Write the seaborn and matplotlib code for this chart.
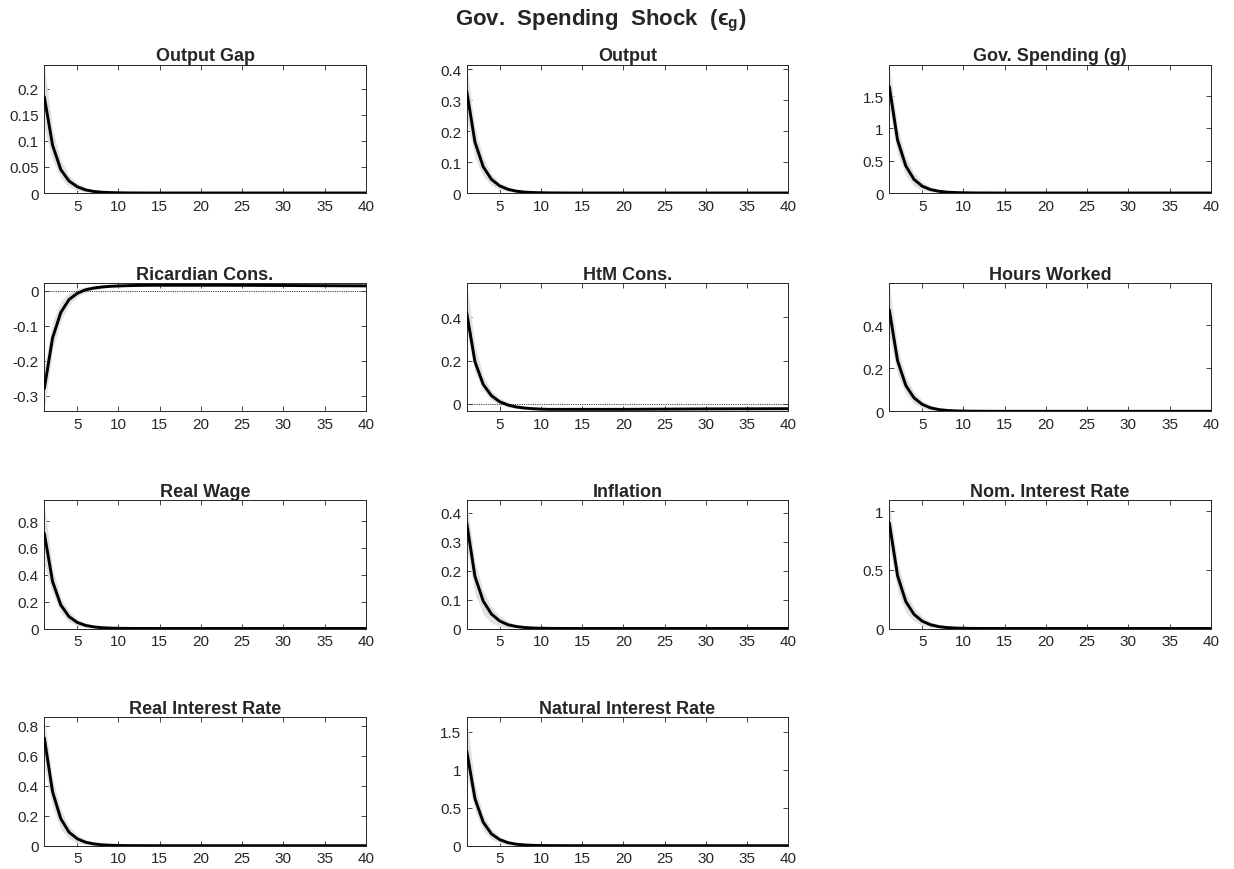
import numpy as np
import pandas as pd
import matplotlib
matplotlib.use("Agg")
import matplotlib.pyplot as plt
from matplotlib.ticker import FuncFormatter
import seaborn as sns

# ---------------- data (horizons 1..40) ----------------
horizon = list(range(1, 41))

titles = ["Output Gap", "Output", "Gov. Spending (g)",
          "Ricardian Cons.", "HtM Cons.", "Hours Worked",
          "Real Wage", "Inflation", "Nom. Interest Rate",
          "Real Interest Rate", "Natural Interest Rate"]

gap_mean = [0.185, 0.092, 0.045, 0.023, 0.012, 0.006, 0.003, 0.0015, 0.0008, 0.0004,
            0.0002, 0.0001, 0.0001, 0, 0, 0, 0, 0, 0, 0,
            0, 0, 0, 0, 0, 0, 0, 0, 0, 0,
            0, 0, 0, 0, 0, 0, 0, 0, 0, 0]
gap_lo = [0.125, 0.064, 0.029, 0.012, 0.005, 0.002, 0.001, 0.0004, 0.0002, 0.0001,
          0, 0, 0, 0, 0, 0, 0, 0, 0, 0,
          0, 0, 0, 0, 0, 0, 0, 0, 0, 0,
          0, 0, 0, 0, 0, 0, 0, 0, 0, 0]
gap_hi = [0.245, 0.122, 0.063, 0.034, 0.019, 0.011, 0.006, 0.0035, 0.002, 0.0011,
          0.0006, 0.0003, 0.0002, 0.0001, 0, 0, 0, 0, 0, 0,
          0, 0, 0, 0, 0, 0, 0, 0, 0, 0,
          0, 0, 0, 0, 0, 0, 0, 0, 0, 0]

out_mean = [0.33, 0.165, 0.085, 0.044, 0.023, 0.012, 0.006, 0.003, 0.0016, 0.0008,
            0.0004, 0.0002, 0.0001, 0, 0, 0, 0, 0, 0, 0,
            0, 0, 0, 0, 0, 0, 0, 0, 0, 0,
            0, 0, 0, 0, 0, 0, 0, 0, 0, 0]
out_lo = [0.24, 0.115, 0.055, 0.025, 0.011, 0.005, 0.002, 0.001, 0.0005, 0.0002,
          0, 0, 0, 0, 0, 0, 0, 0, 0, 0,
          0, 0, 0, 0, 0, 0, 0, 0, 0, 0,
          0, 0, 0, 0, 0, 0, 0, 0, 0, 0]
out_hi = [0.415, 0.21, 0.115, 0.062, 0.034, 0.019, 0.01, 0.0055, 0.003, 0.0015,
          0.0008, 0.0004, 0.0002, 0.0001, 0, 0, 0, 0, 0, 0,
          0, 0, 0, 0, 0, 0, 0, 0, 0, 0,
          0, 0, 0, 0, 0, 0, 0, 0, 0, 0]

gov_mean = [1.65, 0.82, 0.42, 0.21, 0.105, 0.053, 0.027, 0.013, 0.007, 0.0035,
            0.0018, 0.0009, 0.0005, 0.0002, 0.0001, 0, 0, 0, 0, 0,
            0, 0, 0, 0, 0, 0, 0, 0, 0, 0,
            0, 0, 0, 0, 0, 0, 0, 0, 0, 0]
gov_lo = [1.3, 0.6, 0.27, 0.11, 0.045, 0.018, 0.007, 0.003, 0.001, 0.0004,
          0.0001, 0, 0, 0, 0, 0, 0, 0, 0, 0,
          0, 0, 0, 0, 0, 0, 0, 0, 0, 0,
          0, 0, 0, 0, 0, 0, 0, 0, 0, 0]
gov_hi = [1.98, 1.02, 0.56, 0.31, 0.17, 0.095, 0.053, 0.03, 0.017, 0.009,
          0.005, 0.003, 0.0016, 0.0009, 0.0005, 0.0003, 0.0001, 0, 0, 0,
          0, 0, 0, 0, 0, 0, 0, 0, 0, 0,
          0, 0, 0, 0, 0, 0, 0, 0, 0, 0]

ric_mean = [-0.28, -0.135, -0.062, -0.025, -0.007, 0.003, 0.008, 0.011, 0.013, 0.014,
            0.0148, 0.0153, 0.0157, 0.016, 0.016, 0.016, 0.016, 0.016, 0.016, 0.016,
            0.016, 0.016, 0.016, 0.0159, 0.0158, 0.0157, 0.0156, 0.0155, 0.0154, 0.0153,
            0.0152, 0.0151, 0.015, 0.0149, 0.0148, 0.0147, 0.0146, 0.0145, 0.0144, 0.0143]
ric_lo = [-0.34, -0.17, -0.085, -0.04, -0.016, -0.004, 0.003, 0.007, 0.01, 0.011,
          0.012, 0.0125, 0.013, 0.013, 0.013, 0.013, 0.013, 0.013, 0.013, 0.013,
          0.013, 0.013, 0.013, 0.013, 0.013, 0.0128, 0.0127, 0.0126, 0.0125, 0.0124,
          0.0123, 0.0122, 0.0121, 0.012, 0.0119, 0.0118, 0.0117, 0.0116, 0.0115, 0.0114]
ric_hi = [-0.22, -0.09, -0.03, -0.006, 0.006, 0.011, 0.014, 0.016, 0.017, 0.0175,
          0.018, 0.018, 0.0185, 0.0185, 0.0185, 0.0185, 0.0185, 0.0185, 0.0185, 0.0185,
          0.0185, 0.0185, 0.0185, 0.0184, 0.0183, 0.0182, 0.0181, 0.018, 0.0179, 0.0178,
          0.0177, 0.0176, 0.0175, 0.0174, 0.0173, 0.0172, 0.0171, 0.017, 0.0169, 0.0168]

htm_mean = [0.42, 0.195, 0.09, 0.038, 0.01, -0.005, -0.014, -0.019, -0.022, -0.024,
            -0.025, -0.025, -0.025, -0.025, -0.025, -0.025, -0.025, -0.025, -0.025, -0.025,
            -0.0248, -0.0246, -0.0244, -0.0242, -0.024, -0.0238, -0.0236, -0.0234, -0.0232, -0.023,
            -0.0229, -0.0228, -0.0227, -0.0226, -0.0225, -0.0224, -0.0223, -0.0222, -0.0221, -0.022]
htm_lo = [0.33, 0.145, 0.06, 0.018, -0.004, -0.015, -0.021, -0.025, -0.027, -0.028,
          -0.0285, -0.0285, -0.0285, -0.0285, -0.0285, -0.0285, -0.0285, -0.0285, -0.0285, -0.0285,
          -0.0283, -0.0281, -0.0279, -0.0277, -0.0275, -0.0273, -0.0271, -0.0269, -0.0267, -0.0265,
          -0.0264, -0.0263, -0.0262, -0.0261, -0.026, -0.0259, -0.0258, -0.0257, -0.0256, -0.0255]
htm_hi = [0.555, 0.27, 0.13, 0.062, 0.027, 0.008, -0.004, -0.012, -0.017, -0.02,
          -0.0215, -0.0215, -0.0215, -0.0215, -0.0215, -0.0215, -0.0215, -0.0215, -0.0215, -0.0215,
          -0.0213, -0.0211, -0.0209, -0.0207, -0.0205, -0.0203, -0.0201, -0.0199, -0.0197, -0.0195,
          -0.0194, -0.0193, -0.0192, -0.0191, -0.019, -0.0189, -0.0188, -0.0187, -0.0186, -0.0185]

hrs_mean = [0.47, 0.235, 0.12, 0.062, 0.032, 0.016, 0.008, 0.004, 0.002, 0.001,
            0.0005, 0.0003, 0.0001, 0, 0, 0, 0, 0, 0, 0,
            0, 0, 0, 0, 0, 0, 0, 0, 0, 0,
            0, 0, 0, 0, 0, 0, 0, 0, 0, 0]
hrs_lo = [0.35, 0.17, 0.08, 0.035, 0.015, 0.006, 0.002, 0.001, 0.0004, 0.0001,
          0, 0, 0, 0, 0, 0, 0, 0, 0, 0,
          0, 0, 0, 0, 0, 0, 0, 0, 0, 0,
          0, 0, 0, 0, 0, 0, 0, 0, 0, 0]
hrs_hi = [0.59, 0.3, 0.16, 0.09, 0.05, 0.028, 0.016, 0.009, 0.005, 0.003,
          0.0016, 0.0009, 0.0005, 0.0003, 0.0001, 0, 0, 0, 0, 0,
          0, 0, 0, 0, 0, 0, 0, 0, 0, 0,
          0, 0, 0, 0, 0, 0, 0, 0, 0, 0]

wage_mean = [0.71, 0.35, 0.175, 0.088, 0.045, 0.023, 0.012, 0.006, 0.003, 0.0015,
             0.0008, 0.0004, 0.0002, 0.0001, 0, 0, 0, 0, 0, 0,
             0, 0, 0, 0, 0, 0, 0, 0, 0, 0,
             0, 0, 0, 0, 0, 0, 0, 0, 0, 0]
wage_lo = [0.48, 0.26, 0.12, 0.05, 0.02, 0.008, 0.003, 0.001, 0.0004, 0.0001,
           0, 0, 0, 0, 0, 0, 0, 0, 0, 0,
           0, 0, 0, 0, 0, 0, 0, 0, 0, 0,
           0, 0, 0, 0, 0, 0, 0, 0, 0, 0]
wage_hi = [0.93, 0.45, 0.23, 0.125, 0.07, 0.04, 0.022, 0.012, 0.007, 0.004,
           0.0022, 0.0012, 0.0007, 0.0004, 0.0002, 0.0001, 0, 0, 0, 0,
           0, 0, 0, 0, 0, 0, 0, 0, 0, 0,
           0, 0, 0, 0, 0, 0, 0, 0, 0, 0]

infl_mean = [0.365, 0.18, 0.095, 0.05, 0.026, 0.013, 0.007, 0.0035, 0.0018, 0.0009,
             0.0005, 0.0002, 0.0001, 0, 0, 0, 0, 0, 0, 0,
             0, 0, 0, 0, 0, 0, 0, 0, 0, 0,
             0, 0, 0, 0, 0, 0, 0, 0, 0, 0]
infl_lo = [0.28, 0.12, 0.05, 0.02, 0.007, 0.002, 0.0007, 0.0002, 0.0001, 0,
           0, 0, 0, 0, 0, 0, 0, 0, 0, 0,
           0, 0, 0, 0, 0, 0, 0, 0, 0, 0,
           0, 0, 0, 0, 0, 0, 0, 0, 0, 0]
infl_hi = [0.44, 0.23, 0.13, 0.075, 0.043, 0.025, 0.014, 0.008, 0.0045, 0.0025,
           0.0014, 0.0008, 0.0004, 0.0002, 0.0001, 0, 0, 0, 0, 0,
           0, 0, 0, 0, 0, 0, 0, 0, 0, 0,
           0, 0, 0, 0, 0, 0, 0, 0, 0, 0]

nom_mean = [0.9, 0.45, 0.23, 0.12, 0.062, 0.032, 0.016, 0.008, 0.004, 0.002,
            0.001, 0.0005, 0.0003, 0.0001, 0, 0, 0, 0, 0, 0,
            0, 0, 0, 0, 0, 0, 0, 0, 0, 0,
            0, 0, 0, 0, 0, 0, 0, 0, 0, 0]
nom_lo = [0.7, 0.32, 0.14, 0.06, 0.025, 0.01, 0.004, 0.0015, 0.0005, 0.0002,
          0, 0, 0, 0, 0, 0, 0, 0, 0, 0,
          0, 0, 0, 0, 0, 0, 0, 0, 0, 0,
          0, 0, 0, 0, 0, 0, 0, 0, 0, 0]
nom_hi = [1.07, 0.57, 0.31, 0.18, 0.1, 0.058, 0.033, 0.019, 0.011, 0.006,
          0.0035, 0.002, 0.0011, 0.0006, 0.0003, 0.0002, 0.0001, 0, 0, 0,
          0, 0, 0, 0, 0, 0, 0, 0, 0, 0,
          0, 0, 0, 0, 0, 0, 0, 0, 0, 0]

real_mean = [0.72, 0.36, 0.18, 0.09, 0.046, 0.023, 0.012, 0.006, 0.003, 0.0015,
             0.0008, 0.0004, 0.0002, 0.0001, 0, 0, 0, 0, 0, 0,
             0, 0, 0, 0, 0, 0, 0, 0, 0, 0,
             0, 0, 0, 0, 0, 0, 0, 0, 0, 0]
real_lo = [0.53, 0.26, 0.11, 0.045, 0.018, 0.007, 0.003, 0.001, 0.0004, 0.0001,
           0, 0, 0, 0, 0, 0, 0, 0, 0, 0,
           0, 0, 0, 0, 0, 0, 0, 0, 0, 0,
           0, 0, 0, 0, 0, 0, 0, 0, 0, 0]
real_hi = [0.85, 0.45, 0.24, 0.13, 0.072, 0.04, 0.022, 0.012, 0.007, 0.004,
           0.0022, 0.0012, 0.0007, 0.0004, 0.0002, 0.0001, 0, 0, 0, 0,
           0, 0, 0, 0, 0, 0, 0, 0, 0, 0,
           0, 0, 0, 0, 0, 0, 0, 0, 0, 0]

nat_mean = [1.25, 0.62, 0.31, 0.155, 0.08, 0.04, 0.02, 0.01, 0.005, 0.0025,
            0.0013, 0.0007, 0.0003, 0.0002, 0.0001, 0, 0, 0, 0, 0,
            0, 0, 0, 0, 0, 0, 0, 0, 0, 0,
            0, 0, 0, 0, 0, 0, 0, 0, 0, 0]
nat_lo = [0.95, 0.45, 0.2, 0.085, 0.035, 0.014, 0.005, 0.002, 0.0007, 0.0002,
          0, 0, 0, 0, 0, 0, 0, 0, 0, 0,
          0, 0, 0, 0, 0, 0, 0, 0, 0, 0,
          0, 0, 0, 0, 0, 0, 0, 0, 0, 0]
nat_hi = [1.68, 0.8, 0.41, 0.22, 0.12, 0.066, 0.036, 0.02, 0.011, 0.006,
          0.0033, 0.0018, 0.001, 0.0005, 0.0003, 0.0001, 0, 0, 0, 0,
          0, 0, 0, 0, 0, 0, 0, 0, 0, 0,
          0, 0, 0, 0, 0, 0, 0, 0, 0, 0]

means = [gap_mean, out_mean, gov_mean, ric_mean, htm_mean, hrs_mean,
         wage_mean, infl_mean, nom_mean, real_mean, nat_mean]
lows = [gap_lo, out_lo, gov_lo, ric_lo, htm_lo, hrs_lo,
        wage_lo, infl_lo, nom_lo, real_lo, nat_lo]
highs = [gap_hi, out_hi, gov_hi, ric_hi, htm_hi, hrs_hi,
         wage_hi, infl_hi, nom_hi, real_hi, nat_hi]

ylims = [(0, 0.247), (0, 0.416), (0, 1.99),
         (-0.345, 0.023), (-0.034, 0.558), (0, 0.596),
         (0, 0.957), (0, 0.444), (0, 1.094),
         (0, 0.858), (0, 1.69)]
yticks = [[0, 0.05, 0.1, 0.15, 0.2], [0, 0.1, 0.2, 0.3, 0.4], [0, 0.5, 1, 1.5],
          [-0.3, -0.2, -0.1, 0], [0, 0.2, 0.4], [0, 0.2, 0.4],
          [0, 0.2, 0.4, 0.6, 0.8], [0, 0.1, 0.2, 0.3, 0.4], [0, 0.5, 1],
          [0, 0.2, 0.4, 0.6, 0.8], [0, 0.5, 1, 1.5]]
xticks = [5, 10, 15, 20, 25, 30, 35, 40]

# ---------------- style ----------------
sns.set_style("ticks")
plt.rcParams["font.family"] = ["Liberation Sans", "DejaVu Sans"]
plt.rcParams["mathtext.fontset"] = "custom"
plt.rcParams["mathtext.rm"] = "Liberation Sans:bold"
plt.rcParams["mathtext.it"] = "DejaVu Sans:bold"
plt.rcParams["mathtext.bf"] = "Liberation Sans:bold"
dark = "#262626"

fig = plt.figure(figsize=(12.34, 8.70), dpi=100)

col_left = [44.3, 466.7, 889.3]
row_bottom = [194.0, 412.3, 629.5, 846.7]
W, H = 321.5, 128.5
FW, FH = 1234.0, 870.0

fmt = FuncFormatter(lambda v, p: ("%g" % v))

for i, title in enumerate(titles):
    r, c = divmod(i, 3)
    ax = fig.add_axes([col_left[c] / FW, 1 - row_bottom[r] / FH, W / FW, H / FH])
    df = pd.DataFrame({"h": horizon, "m": means[i], "lo": lows[i], "hi": highs[i]})
    ax.fill_between(df["h"], df["lo"], df["hi"], color="#e1e1e1", lw=0, zorder=1)
    ax.axhline(0, color="#303030", lw=0.6, ls=(0, (1.5, 1.2)), zorder=2)
    sns.lineplot(data=df, x="h", y="m", ax=ax, color="black", lw=2.1, zorder=3)
    ax.set_xlim(1, 40)
    ax.set_ylim(*ylims[i])
    ax.set_xticks(xticks)
    ax.set_yticks(yticks[i])
    ax.yaxis.set_major_formatter(fmt)
    ax.set_xlabel("")
    ax.set_ylabel("")
    ax.tick_params(direction="in", length=3.5, width=0.6, top=True, right=True,
                   labelsize=11, colors=dark, pad=4)
    for s in ax.spines.values():
        s.set_color(dark)
        s.set_linewidth(0.7)
    ax.set_title(title, fontsize=13, fontweight="bold", color=dark, pad=3)

fig.text(600.5 / FW, 0.976, "Gov.  Spending  Shock  (\u03f5$_{\\rm g}$)",
         ha="center", va="center", fontsize=16, fontweight="bold", color=dark)

fig.savefig("out.png", dpi=100)
